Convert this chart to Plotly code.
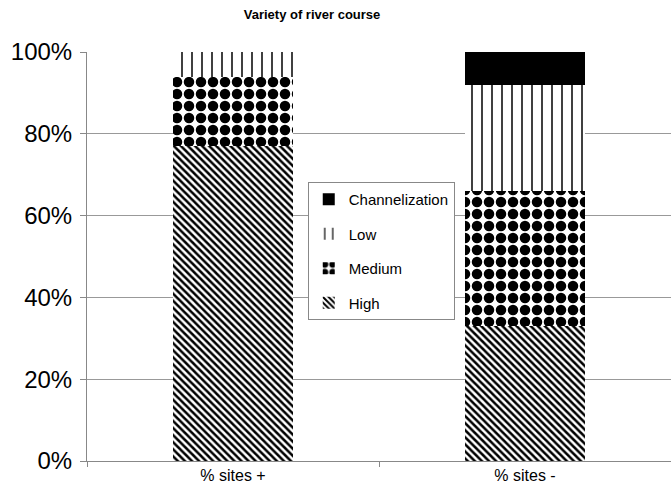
import plotly.graph_objects as go

# ------------------------------- data -------------------------------
categories = ["% sites +", "% sites -"]
high = [77, 33]
medium = [17, 33]
low = [6, 26]
channelization = [0, 8]

y_ticks = [0, 20, 40, 60, 80, 100]
y_labels = ["0%", "20%", "40%", "60%", "80%", "100%"]

# ------------------------------- plot -------------------------------
fig = go.Figure()

# stacking order bottom -> top; legend shows top -> bottom
series = [
    ("High", high, dict(shape="\\", size=5, solidity=0.5)),
    ("Medium", medium, dict(shape=".", size=12, solidity=0.6)),
    ("Low", low, dict(shape="|", size=10, solidity=0.15)),
    ("Channelization", channelization, None),
]

for i, (name, vals, pat) in enumerate(series):
    marker = dict(color="black", line=dict(width=0))
    if pat is not None:
        marker = dict(color="white", line=dict(width=0),
                      pattern=dict(fgcolor="black", bgcolor="white",
                                   fillmode="replace", **pat))
    fig.add_trace(go.Bar(x=categories, y=vals, name=name, legendgroup=name,
                         legendrank=len(series) - i, marker=marker))

fig.update_layout(
    barmode="stack",
    bargap=0.59,
    width=671, height=501,
    margin=dict(l=87, r=0, t=52, b=40, autoexpand=False),
    plot_bgcolor="white", paper_bgcolor="white",
    font=dict(family="Liberation Sans, Arial, sans-serif", color="black"),
    title=dict(text="<b>Variety of river course</b>", x=0.465, xanchor="center",
               y=0.972, yanchor="middle", font=dict(size=13)),
    legend=dict(traceorder="grouped", x=0.378, y=0.682,
                xanchor="left", yanchor="top",
                bgcolor="white", bordercolor="#888", borderwidth=1,
                font=dict(size=15), tracegroupgap=12, itemwidth=30),
    showlegend=True,
)

fig.update_xaxes(showline=True, linecolor="#888", linewidth=1, automargin=False,
                 ticks="outside", tickson="boundaries", ticklen=5, tickcolor="#888",
                 tickfont=dict(size=16), showgrid=False)
fig.update_yaxes(range=[0, 100], tickvals=y_ticks, ticktext=y_labels, automargin=False,
                 showline=True, linecolor="#888", linewidth=1,
                 ticks="outside", ticklen=6, tickcolor="#888", ticklabelstandoff=3,
                 showgrid=True, gridcolor="#999", gridwidth=1,
                 tickfont=dict(size=24), zeroline=False)

fig.write_html("out.html", config={"displayModeBar": False},
               post_script="document.body.style.margin='0';")
